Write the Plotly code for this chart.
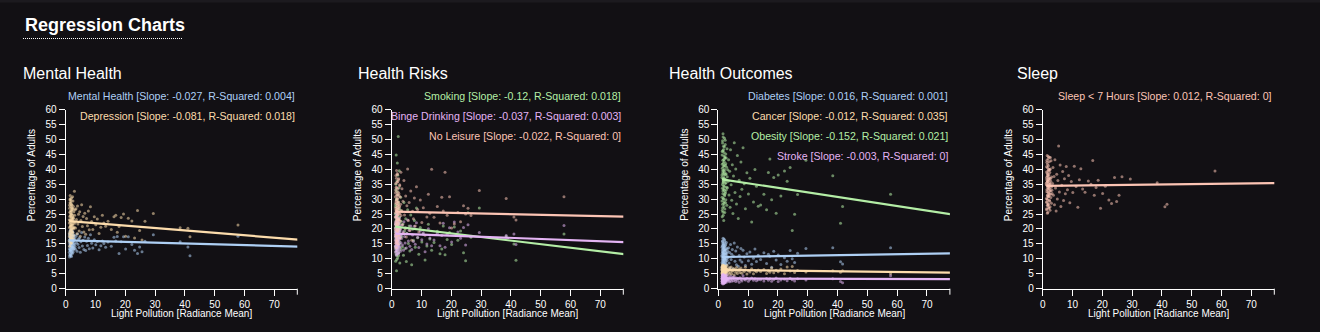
import plotly.graph_objects as go

# ---------------- DATA ----------------
RADIANCE = [
    1.21, 1.25, 1.28, 1.32, 1.35, 1.38, 1.41, 1.44, 1.47, 1.5, 1.53, 1.56, 1.58, 1.61, 1.64, 1.67,
    1.7, 1.73, 1.76, 1.79, 1.82, 1.85, 1.88, 1.91, 1.94, 1.97, 2.01, 2.05, 2.08, 2.12, 2.16, 2.2,
    2.24, 2.28, 2.33, 2.38, 2.43, 2.48, 2.54, 2.6, 2.66, 2.72, 2.79, 2.86, 2.93, 3.0, 3.08, 3.15,
    3.3, 3.45, 3.6, 3.8, 3.95, 4.1, 4.3, 4.5, 4.7, 4.9, 5.1, 5.35, 5.6, 5.85, 6.1, 6.4,
    6.7, 7.0, 7.3, 7.6, 7.9, 8.3, 8.7, 9.1, 9.6, 10.1, 10.6, 11.2, 11.8, 12.3, 12.8, 13.4,
    14.2, 15.3, 16.2, 16.8, 17.3, 17.9, 18.6, 19.4, 20.1, 21.0, 22.2, 23.1, 24.1, 24.8, 25.6, 26.6, 29.4,
    38.4, 41.0, 41.7, 57.8, 79.1,
    1.22, 1.26, 1.3, 1.33, 1.36, 1.4, 1.43, 1.46, 1.49, 1.52, 1.55, 1.59, 1.62, 1.66, 1.69, 1.72,
    1.75, 1.78, 1.81, 1.84, 1.87, 1.9, 1.93, 1.96, 1.99, 2.03, 2.07, 2.1, 2.14, 2.18, 2.22, 2.26,
    2.31, 2.36, 2.41, 2.46, 2.52, 2.58, 2.64, 2.7,
]

MENTAL_HEALTH = [
    12.1, 15.8, 17.9, 10.6, 14.2, 16.5, 19.1, 13.0, 15.2, 17.2, 11.4, 16.0, 18.6, 14.8, 12.6, 16.9,
    15.5, 19.8, 13.7, 17.5, 11.0, 15.9, 14.4, 18.2, 16.3, 12.9, 17.0, 15.1, 13.3, 19.4, 16.7, 14.0,
    11.8, 17.7, 15.6, 13.9, 18.9, 16.1, 12.3, 15.3, 17.4, 14.6, 16.4, 13.5, 18.0, 15.0, 16.8, 14.1,
    13.2, 17.6, 15.4, 12.5, 18.3, 14.9, 16.6, 13.8, 17.1, 12.2, 15.7, 18.8, 14.3, 16.2, 13.1, 17.3,
    12.8, 15.9, 14.5, 16.9, 13.4, 18.1, 15.2, 13.6, 16.4, 14.7, 15.8, 13.0, 14.4, 16.0, 15.1, 13.9,
    15.6, 14.2, 17.2, 16.0, 17.5, 11.8, 15.7, 17.4, 13.3, 17.4, 14.8, 12.9, 11.8, 14.0, 12.4, 15.9, 18.1,
    15.7, 14.0, 11.0, 17.6, 14.4,
    16.2, 13.4, 18.4, 11.2, 15.0, 17.8, 12.7, 16.6, 14.5, 19.5, 13.1, 15.7, 17.1, 11.6, 16.0, 14.9,
    18.7, 12.4, 15.4, 17.3, 13.8, 16.8, 10.8, 15.2, 18.1, 14.2, 16.4, 12.0, 17.6, 15.6, 13.6, 19.0,
    14.7, 16.9, 12.9, 15.9, 17.9, 14.0, 16.1, 13.3,
]
DEPRESSION = [
    23.1, 17.5, 27.9, 20.4, 14.2, 25.6, 29.8, 19.0, 22.7, 31.2, 16.3, 24.4, 21.0, 28.5, 18.2, 26.1,
    22.2, 15.1, 29.1, 20.9, 24.9, 17.0, 27.2, 23.6, 19.6, 30.4, 21.6, 25.1, 16.7, 28.0, 22.9, 20.2,
    26.7, 18.8, 24.0, 21.3, 29.4, 19.9, 23.4, 27.5, 17.8, 25.8, 22.4, 20.6, 32.6, 24.6, 21.9, 26.4,
    20.3, 26.8, 23.2, 18.4, 27.7, 21.7, 24.9, 19.3, 25.8, 17.6, 22.8, 28.1, 20.8, 24.2, 19.0, 25.3,
    18.2, 23.5, 21.1, 26.0, 19.7, 27.4, 22.5, 19.8, 24.1, 21.4, 23.3, 18.5, 20.6, 24.6, 22.0, 20.9,
    22.6, 19.8, 24.1, 24.6, 18.9, 20.8, 23.8, 25.0, 17.6, 23.6, 22.7, 17.0, 26.2, 19.5, 16.3, 22.6, 25.2,
    20.4, 20.2, 17.4, 21.3, 17.4,
    22.0, 18.5, 26.9, 15.8, 24.2, 20.7, 28.8, 17.3, 23.0, 30.1, 19.4, 25.4, 21.5, 27.6, 16.5, 22.8,
    29.6, 18.0, 24.7, 20.0, 26.3, 23.9, 15.4, 21.2, 28.2, 19.1, 25.9, 22.5, 17.7, 27.0, 23.3, 20.5,
    30.8, 18.7, 24.5, 21.8, 26.6, 16.9, 23.7, 20.3,
]
SMOKING = [
    20.3, 14.1, 27.5, 9.2, 23.8, 17.6, 33.2, 12.4, 21.9, 44.8, 16.0, 25.2, 19.1, 6.0, 29.8, 15.3,
    22.7, 11.0, 36.1, 18.4, 24.5, 13.6, 42.1, 20.9, 16.8, 26.7, 10.3, 22.1, 31.4, 17.9, 19.6, 51.0,
    14.8, 23.2, 28.4, 12.0, 21.3, 18.9, 39.5, 15.8, 24.0, 8.6, 20.1, 26.2, 17.2, 30.6, 13.2, 22.6,
    17.5, 25.8, 14.0, 21.7, 11.2, 28.9, 19.3, 13.5, 23.4, 9.1, 18.6, 26.4, 15.1, 21.0, 12.6, 24.7,
    8.0, 19.9, 16.2, 22.8, 13.9, 27.0, 17.1, 11.5, 20.5, 15.6, 18.2, 9.6, 14.3, 21.6, 16.6, 12.9,
    15.5, 19.2, 11.7, 13.3, 21.0, 11.4, 16.5, 18.8, 14.8, 20.7, 16.2, 19.3, 12.0, 9.4, 25.4, 17.2, 27.0,
    17.5, 15.0, 9.5, 18.3, 14.6,
    19.0, 24.9, 13.4, 28.2, 16.6, 21.5, 35.0, 11.6, 22.9, 18.1, 30.0, 14.5, 26.0, 20.6, 9.8, 23.6,
    17.4, 32.5, 15.6, 21.1, 27.3, 12.8, 19.8, 24.3, 38.0, 16.3, 22.2, 18.6, 29.1, 14.0, 20.0, 25.6,
    11.1, 23.0, 17.0, 33.8, 19.4, 26.8, 15.0, 21.8,
]
BINGE_DRINKING = [
    18.0, 14.3, 21.6, 12.2, 19.5, 16.4, 24.1, 13.4, 17.7, 22.5, 11.3, 19.0, 15.6, 20.8, 17.1, 25.2,
    14.9, 18.6, 12.7, 21.1, 16.9, 23.3, 15.2, 19.8, 13.9, 18.3, 20.2, 16.1, 22.8, 14.6, 17.4, 19.2,
    11.8, 21.9, 15.9, 18.8, 13.1, 20.5, 17.0, 23.7, 16.6, 14.1, 19.4, 18.1, 12.5, 20.0, 15.4, 17.8,
    16.8, 21.3, 14.6, 19.1, 12.9, 22.4, 17.5, 15.3, 20.4, 13.6, 18.4, 23.0, 16.0, 19.6, 14.2, 21.0,
    13.1, 18.0, 15.8, 20.9, 14.9, 22.1, 17.2, 13.8, 19.3, 16.4, 18.7, 12.4, 15.0, 20.1, 17.0, 14.4,
    16.3, 18.6, 14.4, 17.8, 21.9, 13.9, 18.2, 20.4, 15.6, 22.3, 19.0, 16.9, 20.5, 14.6, 21.4, 17.6, 18.8,
    17.8, 18.3, 14.8, 21.2, 15.7,
    17.3, 20.4, 14.0, 22.2, 16.0, 18.9, 12.6, 21.4, 15.3, 19.6, 23.9, 13.6, 17.9, 20.9, 16.6, 24.6,
    14.7, 19.1, 11.6, 18.4, 22.6, 15.8, 20.1, 13.2, 17.6, 21.7, 16.3, 19.9, 14.4, 23.1, 18.1, 12.1,
    20.6, 16.8, 22.0, 15.1, 19.3, 17.2, 13.8, 21.1,
]
NO_LEISURE = [
    25.4, 19.8, 32.1, 15.2, 28.7, 22.3, 37.9, 17.6, 26.5, 34.0, 21.1, 29.6, 13.8, 24.2, 39.6, 18.9,
    27.3, 31.2, 20.5, 35.6, 23.7, 16.4, 30.3, 26.0, 22.9, 38.2, 19.3, 28.0, 33.4, 24.8, 14.9, 29.0,
    21.8, 36.5, 26.9, 18.1, 31.8, 23.2, 27.7, 20.0, 34.8, 25.1, 16.9, 30.7, 22.6, 28.3, 39.0, 24.5,
    26.2, 33.5, 21.4, 29.3, 18.6, 36.2, 24.7, 20.1, 31.0, 17.3, 27.8, 40.1, 22.8, 28.9, 19.5, 32.7,
    16.2, 25.9, 23.4, 30.4, 21.0, 34.1, 26.5, 19.0, 29.7, 22.2, 27.1, 17.9, 24.0, 31.6, 25.3, 40.0,
    23.9, 27.5, 22.0, 30.6, 26.0, 39.0, 24.6, 30.8, 20.3, 21.7, 25.5, 22.4, 27.8, 25.0, 26.9, 24.5, 32.9,
    30.2, 24.0, 23.0, 30.8, 29.1,
    24.0, 30.8, 18.3, 27.0, 35.2, 21.6, 32.9, 16.1, 26.3, 29.3, 20.9, 37.0, 23.0, 28.5, 17.2, 33.8,
    25.7, 19.6, 31.5, 22.0, 38.6, 27.9, 15.6, 24.9, 30.0, 21.3, 35.9, 26.6, 18.6, 32.3, 23.5, 28.9,
    20.4, 36.8, 25.3, 17.8, 31.0, 22.8, 27.4, 34.5,
]
DIABETES = [
    10.8, 7.2, 13.9, 5.6, 11.9, 9.3, 15.8, 8.1, 12.4, 6.4, 14.6, 10.1, 16.9, 8.8, 11.3, 5.1,
    13.2, 9.7, 12.0, 7.7, 15.1, 10.5, 6.9, 13.6, 11.0, 8.5, 14.2, 9.9, 12.7, 7.4, 16.3, 10.3,
    11.6, 6.1, 13.0, 9.0, 14.9, 11.4, 8.3, 12.2, 10.0, 15.5, 7.9, 11.8, 9.5, 13.4, 10.7, 12.5,
    10.4, 13.7, 8.6, 12.1, 7.0, 14.8, 9.8, 11.5, 13.1, 6.6, 10.9, 15.3, 9.2, 12.6, 8.0, 14.0,
    7.5, 11.1, 9.6, 13.5, 8.9, 12.9, 10.6, 7.8, 11.7, 9.4, 12.3, 8.2, 10.2, 13.3, 9.1, 11.2,
    9.8, 12.0, 8.4, 11.5, 10.9, 7.2, 12.5, 9.6, 11.3, 8.1, 10.4, 9.2, 12.8, 10.0, 8.8, 11.9, 13.5,
    13.7, 9.0, 8.3, 13.7, 11.0,
    11.2, 8.7, 14.3, 6.8, 12.8, 9.9, 16.0, 7.5, 13.3, 10.6, 15.2, 8.4, 12.1, 5.8, 11.7, 14.7,
    9.4, 13.8, 7.1, 10.9, 16.6, 8.9, 12.5, 6.3, 11.5, 14.0, 9.7, 13.0, 7.9, 10.3, 15.7, 8.1,
    12.9, 10.0, 14.5, 6.6, 11.9, 9.2, 13.5, 10.8,
]
CANCER = [
    6.3, 5.1, 7.4, 4.6, 6.8, 5.7, 7.9, 4.9, 6.1, 7.1, 5.4, 6.6, 4.2, 7.6, 5.9, 6.4,
    5.2, 7.2, 6.0, 4.8, 6.9, 5.6, 7.7, 6.2, 5.0, 7.0, 5.8, 6.5, 4.4, 7.3, 6.1, 5.5,
    6.7, 5.3, 7.5, 6.3, 4.7, 6.8, 5.7, 7.1, 6.0, 5.4, 6.6, 4.5, 7.8, 6.2, 5.9, 6.4,
    6.1, 5.3, 7.0, 4.8, 6.5, 5.7, 7.3, 5.0, 6.2, 5.9, 6.8, 4.6, 6.4, 5.5, 7.1, 5.1,
    6.0, 6.6, 5.4, 6.9, 5.2, 6.3, 5.8, 7.2, 4.9, 6.0, 5.6, 6.7, 5.0, 6.1, 5.7, 6.3,
    5.8, 6.4, 5.1, 6.0, 5.5, 6.9, 5.3, 6.2, 5.7, 6.6, 5.0, 7.3, 5.9, 7.4, 5.4, 6.1, 5.6,
    6.0, 5.5, 6.0, 5.0, 5.2,
    6.5, 5.3, 7.2, 4.9, 6.2, 5.8, 7.6, 4.5, 6.9, 5.5, 6.4, 7.4, 5.1, 6.7, 5.9, 4.3,
    7.0, 6.1, 5.6, 7.8, 6.3, 5.0, 6.8, 5.7, 7.3, 4.7, 6.6, 6.0, 5.4, 7.1, 6.4, 5.2,
    6.9, 4.6, 7.5, 6.2, 5.8, 6.7, 5.3, 6.5,
]
OBESITY = [
    37.2, 29.4, 44.8, 24.1, 40.3, 33.6, 49.5, 27.0, 38.7, 46.2, 31.8, 35.5, 51.9, 25.6, 42.0, 36.1,
    30.2, 47.7, 34.4, 39.6, 22.8, 43.3, 37.9, 28.5, 45.6, 33.0, 41.2, 36.8, 50.4, 31.1, 39.0, 26.7,
    44.1, 35.2, 48.3, 32.5, 38.2, 41.9, 29.8, 36.5, 43.8, 34.0, 40.7, 27.9, 46.9, 37.5, 33.8, 39.8,
    36.0, 43.2, 31.4, 39.3, 27.3, 46.5, 34.8, 29.6, 41.5, 25.2, 37.7, 48.9, 32.2, 40.1, 28.4, 44.6,
    23.5, 36.3, 30.9, 42.4, 33.3, 47.2, 35.1, 26.8, 38.8, 31.7, 37.0, 22.3, 29.0, 39.9, 34.3, 27.6,
    28.0, 31.6, 26.4, 38.9, 43.4, 29.8, 37.2, 25.3, 38.1, 31.0, 39.4, 36.0, 40.6, 19.5, 24.9, 31.5, 43.0,
    37.8, 21.9, 27.5, 31.6, 25.5,
    38.1, 30.6, 45.9, 26.2, 41.7, 34.9, 48.8, 28.3, 39.5, 43.0, 32.7, 36.9, 50.8, 24.6, 40.9, 35.8,
    30.0, 46.6, 33.4, 38.6, 27.5, 44.4, 37.0, 29.1, 42.6, 34.2, 47.5, 31.5, 39.9, 25.5, 43.7, 36.2,
    49.7, 32.0, 41.3, 28.8, 45.1, 35.5, 38.4, 33.1,
]
STROKE = [
    3.3, 2.4, 4.1, 1.8, 3.7, 2.9, 4.6, 2.1, 3.5, 2.7, 4.3, 3.0, 1.6, 3.9, 2.5, 4.8,
    3.2, 2.2, 3.6, 2.8, 4.4, 3.1, 1.9, 3.8, 2.6, 4.0, 3.4, 2.3, 4.2, 3.0, 2.0, 3.7,
    2.9, 4.5, 3.3, 2.4, 3.9, 3.1, 2.7, 4.1, 3.5, 2.2, 3.6, 3.2, 4.7, 2.8, 3.4, 3.0,
    3.2, 2.6, 3.9, 2.3, 3.5, 2.9, 4.2, 2.5, 3.3, 3.8, 2.7, 4.0, 3.1, 2.4, 3.6, 2.8,
    3.4, 2.2, 3.7, 3.0, 2.6, 4.3, 3.2, 2.9, 3.5, 2.5, 3.1, 3.6, 2.8, 3.3, 2.7, 3.0,
    3.0, 2.6, 3.4, 2.8, 3.3, 2.5, 3.1, 3.6, 2.4, 2.9, 3.2, 2.7, 3.5, 3.0, 2.6, 3.3, 2.9,
    3.3, 2.4, 2.0, 4.3, 3.0,
    3.4, 2.6, 4.0, 1.9, 3.6, 3.0, 4.4, 2.3, 3.2, 2.8, 3.8, 2.5, 4.6, 3.1, 2.1, 3.7,
    2.9, 4.2, 3.3, 1.7, 3.5, 2.7, 4.0, 3.0, 2.4, 3.9, 3.2, 2.6, 4.3, 3.4, 2.0, 3.6,
    2.8, 4.1, 3.1, 2.5, 3.8, 3.3, 2.9, 3.5,
]
SLEEP = [
    34.8, 30.2, 39.1, 26.4, 36.7, 32.5, 42.3, 28.9, 35.6, 44.6, 31.1, 37.8, 25.3, 33.9, 40.5, 29.7,
    36.0, 27.8, 38.4, 33.2, 43.5, 30.8, 35.1, 41.2, 28.2, 37.1, 32.0, 39.7, 34.3, 26.9, 36.4, 31.6,
    44.0, 33.5, 29.3, 38.9, 35.4, 27.4, 40.1, 32.8, 36.9, 30.5, 42.8, 34.0, 28.6, 37.4, 33.0, 31.9,
    35.2, 40.6, 31.3, 37.6, 28.1, 43.2, 33.7, 26.0, 38.3, 30.0, 36.2, 47.8, 32.4, 41.4, 27.5, 34.6,
    39.2, 29.5, 36.8, 31.8, 40.9, 33.1, 37.9, 28.8, 35.9, 32.2, 41.0, 34.2, 27.3, 36.5, 40.2, 33.4,
    32.3, 36.1, 35.0, 42.9, 31.3, 33.9, 36.3, 26.9, 31.9, 34.3, 29.7, 28.5, 37.2, 29.2, 31.3, 37.5, 36.7,
    35.5, 27.4, 28.3, 39.4, 35.6,
    35.3, 29.0, 40.8, 26.8, 37.3, 33.1, 43.0, 30.0, 36.2, 38.6, 27.9, 34.6, 41.7, 31.4, 35.9, 25.6,
    39.4, 32.3, 37.7, 28.4, 44.3, 34.1, 30.9, 36.6, 40.0, 27.1, 33.6, 38.1, 31.0, 42.5, 35.0, 29.6,
    37.0, 32.6, 39.8, 26.3, 34.9, 43.9, 31.6, 36.0,
]

PANEL_TITLES = ["Mental Health", "Health Risks", "Health Outcomes", "Sleep"]
SERIES_NAMES = [
    ["Mental Health", "Depression"],
    ["Smoking", "Binge Drinking", "No Leisure"],
    ["Diabetes", "Cancer", "Obesity", "Stroke"],
    ["Sleep < 7 Hours"],
]
SERIES_VALUES = [
    [MENTAL_HEALTH, DEPRESSION],
    [SMOKING, BINGE_DRINKING, NO_LEISURE],
    [DIABETES, CANCER, OBESITY, STROKE],
    [SLEEP],
]
SLOPES = [[-0.027, -0.081], [-0.12, -0.037, -0.022], [0.016, -0.012, -0.152, -0.003], [0.012]]
R_SQUARED = [[0.004, 0.018], [0.018, 0.003, 0], [0.001, 0.035, 0.021, 0], [0]]
INTERCEPTS = [[16.2, 22.75], [20.9, 18.5, 25.85], [10.6, 6.3, 36.8, 3.45], [34.4]]

X_TICKS = [0, 10, 20, 30, 40, 50, 60, 70]
Y_TICKS = [0, 5, 10, 15, 20, 25, 30, 35, 40, 45, 50, 55, 60]
X_MAX = 77.7
Y_MAX = 60

# ---------------- STYLE ----------------
W, H = 1320, 332
BG = "#121014"
FONT = "Liberation Sans, Arial, Helvetica, sans-serif"
BLUE, WHEAT, GREEN, PURPLE, PEACH = "#aecff4", "#fcdcac", "#b4eea6", "#e4b4f4", "#fcc4b4"
COLORS = [[BLUE, WHEAT], [GREEN, PURPLE, PEACH], [BLUE, WHEAT, GREEN, PURPLE], [PEACH]]

PLOT_LEFT = [65.7, 391.7, 718.3, 1042.7]
PLOT_W = 231.6
PLOT_TOP, PLOT_BOTTOM = 109.5, 288.7
TITLE_X = [20.5, 356.0, 667.3, 1015.0]


def px(x):
    return x / W


def py(y):
    return 1 - y / H


fig = go.Figure()
annotations = []
shapes = []
layout_axes = {}

for i, title in enumerate(PANEL_TITLES):
    sfx = "" if i == 0 else str(i + 1)
    xa, ya = "x" + sfx, "y" + sfx
    left = PLOT_LEFT[i]
    right = left + PLOT_W

    # points
    for name, vals, col in zip(SERIES_NAMES[i], SERIES_VALUES[i], COLORS[i]):
        fig.add_trace(go.Scatter(
            x=RADIANCE, y=vals, mode="markers", xaxis=xa, yaxis=ya,
            marker=dict(size=3, color=col, opacity=0.55, line=dict(width=0)),
            cliponaxis=False, hoverinfo="skip", showlegend=False, name=name))
    # regression lines
    xmin, xmax = min(RADIANCE), max(RADIANCE)
    for name, m, b, col in zip(SERIES_NAMES[i], SLOPES[i], INTERCEPTS[i], COLORS[i]):
        fig.add_trace(go.Scatter(
            x=[xmin, xmax], y=[b + m * xmin, b + m * xmax], mode="lines",
            xaxis=xa, yaxis=ya, line=dict(color=col, width=2.2),
            hoverinfo="skip", showlegend=False, name=name + " fit"))

    axis_common = dict(
        showline=True, linecolor="white", linewidth=1, ticks="outside", ticklen=6,
        tickcolor="white", tickwidth=1, showgrid=False, zeroline=False, automargin=False,
        tickfont=dict(family=FONT, size=10, color="white"), fixedrange=True)
    layout_axes["xaxis" + sfx] = dict(
        axis_common, domain=[px(left), px(right)], range=[0, X_MAX],
        tickvals=X_TICKS, anchor=ya)
    layout_axes["yaxis" + sfx] = dict(
        axis_common, domain=[py(PLOT_BOTTOM), py(PLOT_TOP)], range=[0, Y_MAX],
        tickvals=Y_TICKS, anchor=xa)

    # outer tick at the end of the x axis
    shapes.append(dict(type="line", xref=xa + " domain", yref=ya + " domain",
                       x0=1, x1=1, y0=0, y1=-6 / (PLOT_BOTTOM - PLOT_TOP),
                       line=dict(color="white", width=1)))

    # panel title
    annotations.append(dict(text=title, x=px(TITLE_X[i]), y=py(73.5), xref="paper", yref="paper",
                            xanchor="left", yanchor="middle", showarrow=False,
                            font=dict(family=FONT, size=16, color="white")))
    # axis titles
    annotations.append(dict(text="Light Pollution [Radiance Mean]", x=px((left + right) / 2), y=py(313.5),
                            xref="paper", yref="paper", xanchor="center", yanchor="middle",
                            showarrow=False, font=dict(family=FONT, size=10, color="white")))
    annotations.append(dict(text="Percentage of Adults", x=px(left - 34.5), y=py(175),
                            xref="paper", yref="paper", xanchor="center", yanchor="middle",
                            textangle=-90, showarrow=False,
                            font=dict(family=FONT, size=10, color="white")))
    # regression labels
    for k, (name, m, r2, col) in enumerate(zip(SERIES_NAMES[i], SLOPES[i], R_SQUARED[i], COLORS[i])):
        annotations.append(dict(
            text=f"{name} [Slope: {m}, R-Squared: {r2}]",
            x=px(right), y=py(95.5 + 20 * k), xref="paper", yref="paper",
            xanchor="right", yanchor="middle", showarrow=False,
            font=dict(family=FONT, size=10.6, color=col)))

# header
annotations.append(dict(text="<b>Regression Charts</b>", x=px(23), y=py(24.5), xref="paper", yref="paper",
                        xanchor="left", yanchor="middle", showarrow=False,
                        font=dict(family=FONT, size=18, color="white")))
shapes.append(dict(type="line", xref="paper", yref="paper", x0=px(23), x1=px(183), y0=py(38.5), y1=py(38.5),
                   line=dict(color="white", width=1, dash="1px,1px")))
shapes.append(dict(type="rect", xref="paper", yref="paper", x0=0, x1=1, y0=py(2.5), y1=1,
                   fillcolor="#1c1a1f", line=dict(width=0), layer="below"))

fig.update_layout(
    width=W, height=H, autosize=False,
    margin=dict(l=0, r=0, t=0, b=0, pad=0, autoexpand=False),
    paper_bgcolor=BG, plot_bgcolor=BG,
    annotations=annotations, shapes=shapes,
    showlegend=False, hovermode=False,
    **layout_axes,
)

fig.write_html("out.html", config={"displayModeBar": False})
